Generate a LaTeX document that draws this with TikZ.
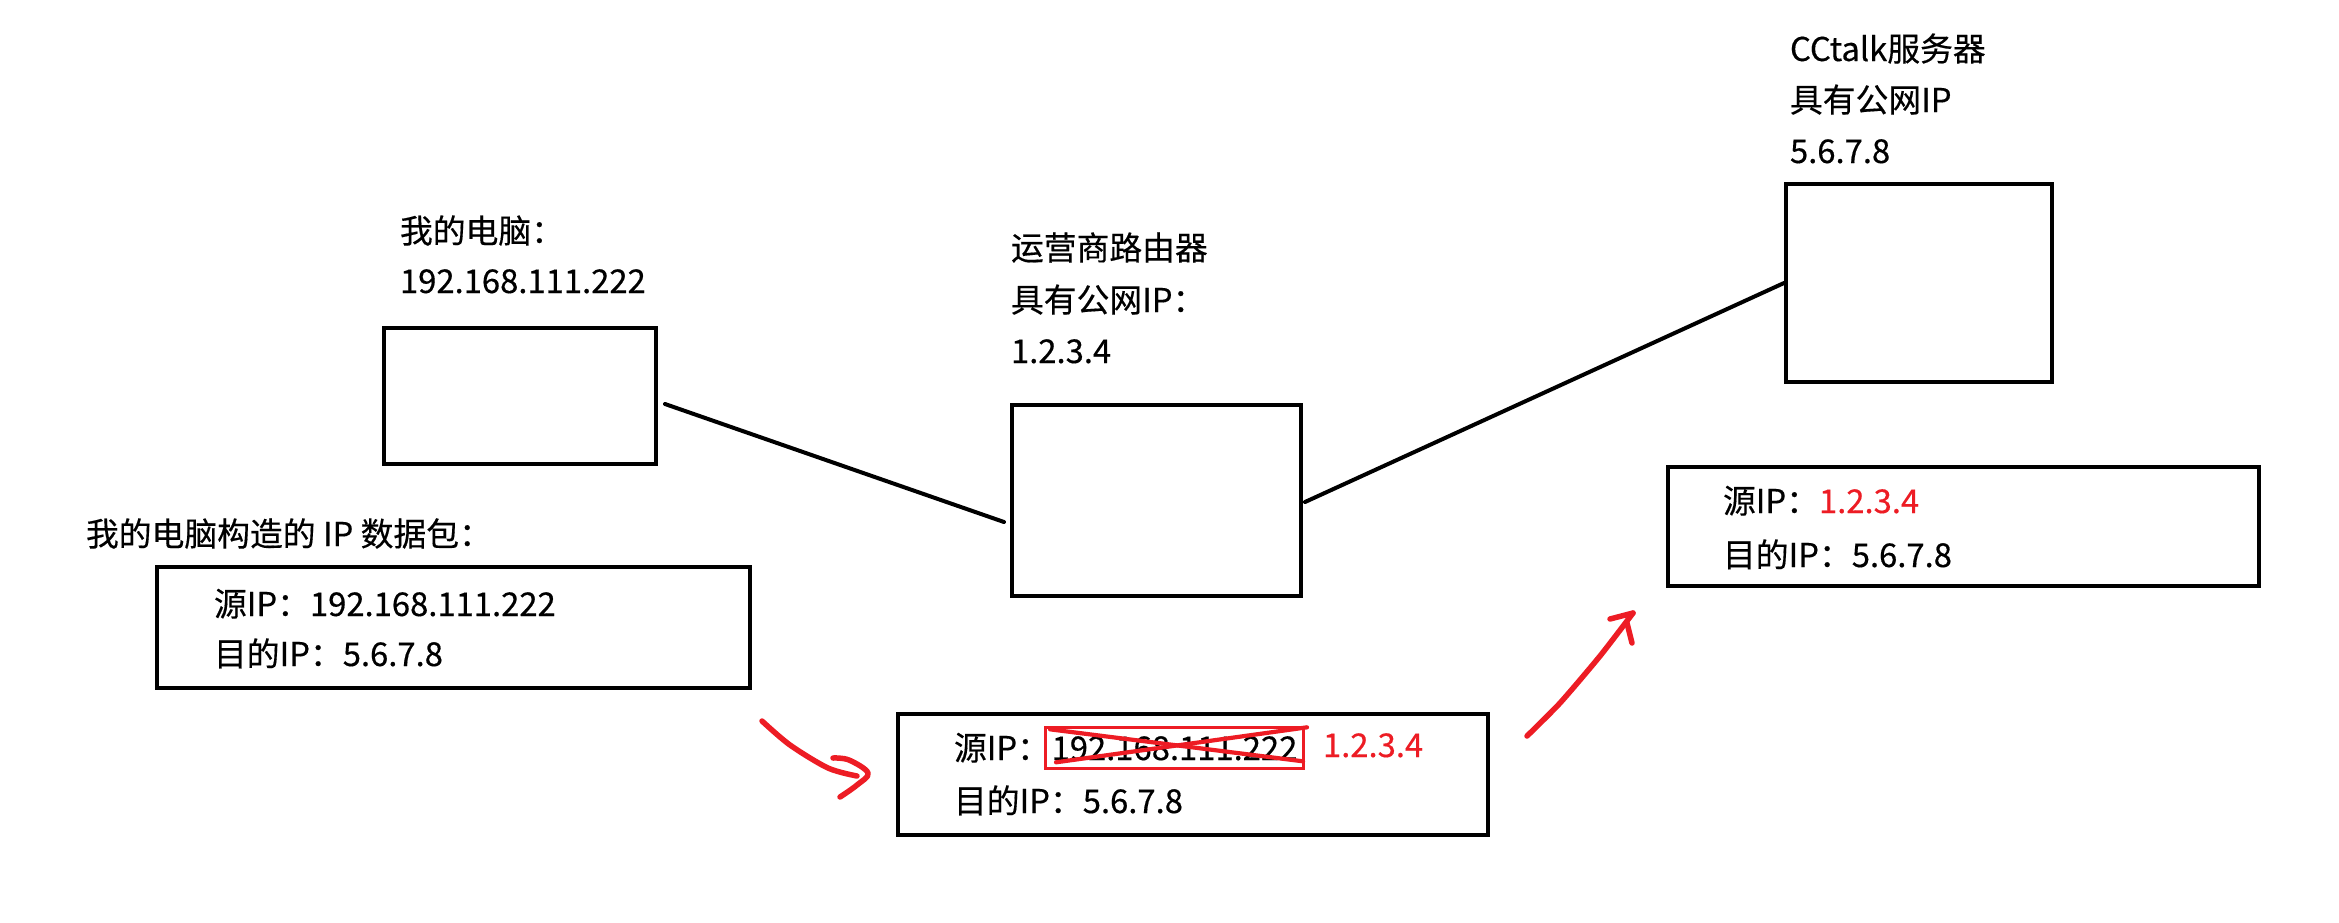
\documentclass[tikz,border=0pt]{standalone}
\usepackage{fontspec}
\setmainfont{Noto Sans CJK SC}[FakeBold=0.4]
\definecolor{pred}{RGB}{237,28,36}
\begin{document}
\begin{tikzpicture}[x=0.5pt,y=-0.5pt,
  box/.style={draw,line width=2pt,inner sep=0pt,outer sep=0pt},
  txt/.style={anchor=base west,inner sep=0pt,outer sep=0pt,font=\fontsize{16.4pt}{20pt}\selectfont},
  wire/.style={line width=2pt,line cap=round},
  redmark/.style={draw=pred,line width=2.75pt,line cap=round,line join=round},
  redx/.style={draw=pred,line width=2.1pt,line cap=round}]
\useasboundingbox[fill=white] (0,0) rectangle (2339,922);

% hosts
\node[box,minimum width=136pt,minimum height=68pt] (b1) at (520,396) {};
\node[box,minimum width=144.5pt,minimum height=95.5pt] (b2) at (1156.5,500.5) {};
\node[box,minimum width=133pt,minimum height=99pt] (b3) at (1919,283) {};

% packets
\node[box,minimum width=296.5pt,minimum height=60.5pt] (p1) at (453.5,627.5) {};
\node[box,minimum width=295pt,minimum height=60.5pt] (p2) at (1193,774.5) {};
\node[box,minimum width=295.5pt,minimum height=59.5pt] (p3) at (1963.5,526.5) {};

% wires
\coordinate (w1s) at ([xshift=4.5pt,yshift=-4pt]b1.east);
\coordinate (w1e) at ([xshift=-4pt,yshift=-10.75pt]b2.west);
\coordinate (w2s) at ([xshift=2pt,yshift=-0.75pt]b2.east);
\coordinate (w2e) at ([xshift=-1pt,yshift=0pt]b3.west);
\draw[wire] (w1s) -- (w1e);
\draw[wire] (w2s) -- (w2e);

% labels
\node[txt] (pcname) at (400,243) {我的电脑：};
\node[txt] (pcip) at (400,293) {192.168.111.222};
\node[txt] (rtname) at (1011,260) {运营商路由器};
\node[txt] (rtpub) at (1011,312) {具有公网IP：};
\node[txt] (rtip) at (1011,363) {1.2.3.4};
\node[txt] (svname) at (1790,61) {CCtalk服务器};
\node[txt] (svpub) at (1790,112) {具有公网IP};
\node[txt] (svip) at (1790,163) {5.6.7.8};
\node[txt] (pktlabel) at (86,546) {我的电脑构造的 IP 数据包：};

% packet 1
\node[txt] (p1src) at (214,616) {源IP：192.168.111.222};
\node[txt] (p1dst) at (214,666) {目的IP：5.6.7.8};

% packet 2
\node[txt] (p2src) at (954,760) {源IP：};
\node[txt,draw=pred,line width=1.6pt,minimum width=129pt,minimum height=20.5pt,inner sep=0pt] (old) at (1045.5,760) {192.168.111.222};
\draw[redx] ([xshift=2.25pt,yshift=-0.75pt]old.north west) -- ([xshift=-0.25pt,yshift=3.75pt]old.south east);
\draw[redx] ([xshift=5.25pt,yshift=3.25pt]old.south west) -- ([xshift=1.75pt,yshift=0.25pt]old.north east);
\node[txt,text=pred] (new) at (1323,757) {1.2.3.4};
\node[txt] (p2dst) at (954,813) {目的IP：5.6.7.8};

% packet 3
\node[txt] (p3src) at (1723,513) {源IP：\textcolor{pred}{1.2.3.4}};
\node[txt] (p3dst) at (1723,567) {目的IP：5.6.7.8};

% hand-drawn red arrows
\coordinate (a1s) at (762,721);
\coordinate (a1t) at (868,773);
\draw[redmark] plot[smooth,tension=0.5] coordinates {(a1s) (790,745) (828,768) (857,776)};
\draw[redmark] plot[smooth,tension=0.6] coordinates {(833,758) (849,760) (a1t) (857,785) (840,797)};
\coordinate (a2s) at (1527,736);
\coordinate (a2t) at (1633,613);
\draw[redmark] plot[smooth,tension=0.4] coordinates {(a2s) (1560,703) (1600,656) (a2t)};
\draw[redmark] (1610,619) -- (a2t);
\draw[redmark] (1627,623) -- (1632,643);
\end{tikzpicture}
\end{document}
